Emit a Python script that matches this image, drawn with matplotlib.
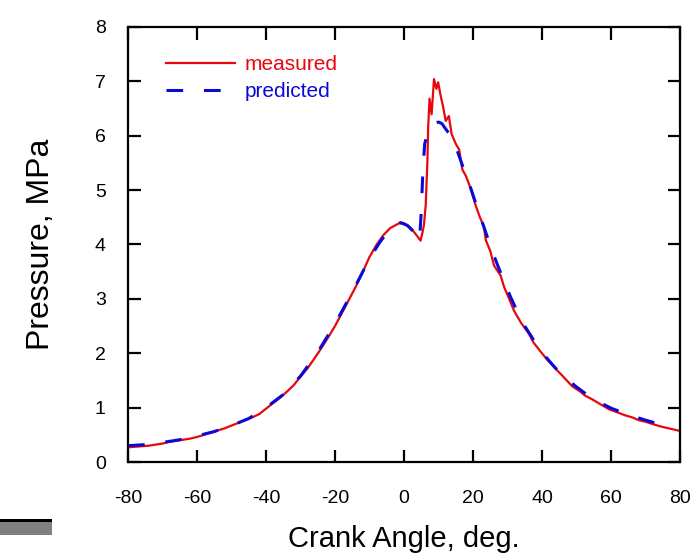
import matplotlib.pyplot as plt
from matplotlib.patches import Rectangle

plt.rcParams['font.family'] = ['Liberation Sans', 'DejaVu Sans']
plt.rcParams['lines.scale_dashes'] = False
plt.rcParams['axes.unicode_minus'] = False

# measured cylinder pressure (red)
meas_deg = [-80, -78, -76, -74, -72, -70, -68, -66, -64, -62, -60, -58, -56, -54,
            -52, -50, -48, -46, -44, -42, -40, -38, -36, -34, -32, -30, -28, -26,
            -24, -22, -20, -18, -16, -14, -12, -10, -8, -6, -4, -2, -1, 0, 1, 2,
            3, 4, 4.8, 5.3, 5.8, 6.3, 6.8, 7.0, 7.4, 8.0, 8.7, 9.4, 9.9, 10.6,
            11.3, 12.1, 13.0, 13.8, 15, 16, 16.9, 18, 19.3, 20.7, 22, 23.2, 23.7,
            25, 26.1, 28, 29, 30.4, 31.9, 34, 36.2, 37.5, 39.1, 41.5, 44, 46,
            48.8, 51, 52.5, 54.6, 57, 59.4, 62, 64, 66.2, 68, 70, 72, 74, 76,
            78.7, 80]
meas_p = [0.27, 0.28, 0.29, 0.30, 0.32, 0.34, 0.37, 0.39, 0.41, 0.43, 0.46, 0.50,
          0.54, 0.58, 0.62, 0.67, 0.72, 0.77, 0.82, 0.88, 0.98, 1.08, 1.18, 1.29,
          1.41, 1.57, 1.72, 1.90, 2.09, 2.29, 2.50, 2.74, 2.98, 3.22, 3.49, 3.77,
          3.99, 4.17, 4.30, 4.37, 4.40, 4.39, 4.34, 4.30, 4.22, 4.14, 4.07, 4.20,
          4.37, 4.73, 5.56, 6.15, 6.68, 6.39, 7.04, 6.86, 6.98, 6.74, 6.54, 6.27,
          6.36, 6.03, 5.85, 5.74, 5.38, 5.25, 5.03, 4.73, 4.50, 4.32, 4.08, 3.88,
          3.61, 3.43, 3.22, 3.01, 2.78, 2.55, 2.36, 2.20, 2.07, 1.88, 1.71, 1.58,
          1.39, 1.30, 1.22, 1.15, 1.06, 0.97, 0.91, 0.86, 0.82, 0.77, 0.74, 0.70,
          0.66, 0.63, 0.59, 0.57]

# predicted (blue dashed)
pred_deg = [-80, -75, -70, -65, -60, -55, -50, -45, -40, -35, -30, -25, -20, -15,
            -10, -7, -5, -3, -1, 1, 3, 4.5, 5, 5.5, 6, 7, 8, 9, 10, 11, 12, 13.5,
            15, 17, 19, 21, 23, 25, 27, 29, 31, 33, 35, 38, 41, 44, 47, 50, 53,
            56, 60, 65, 70, 75]
pred_p = [0.30, 0.32, 0.36, 0.41, 0.48, 0.56, 0.67, 0.80, 1.00, 1.24, 1.58, 2.02,
          2.54, 3.12, 3.74, 4.04, 4.21, 4.33, 4.40, 4.35, 4.22, 4.08, 4.60, 5.40,
          5.85, 6.08, 6.18, 6.23, 6.25, 6.22, 6.13, 6.00, 5.80, 5.44, 5.10, 4.72,
          4.35, 3.98, 3.64, 3.32, 3.02, 2.74, 2.50, 2.20, 1.94, 1.72, 1.54, 1.38,
          1.24, 1.12, 0.99, 0.87, 0.77, 0.68]

fig = plt.figure(figsize=(6.95, 5.59), dpi=100)
ax = fig.add_axes([0.1842, 0.1735, 0.7942, 0.7785])

ax.plot(meas_deg, meas_p, color='#e8070f', lw=1.6, label='measured')
ax.plot(pred_deg, pred_p, color='#0a0ad8', lw=2.2, dashes=(12, 15), label='predicted')

ax.set_xlim(-80, 80)
ax.set_ylim(0, 8)
ax.set_xticks(range(-80, 81, 20))
ax.set_yticks(range(0, 9))

for s in ax.spines.values():
    s.set_linewidth(1.6)
ax.tick_params(direction='in', length=9, width=1.6, top=True, right=True,
               labelsize=14)
ax.tick_params(axis='x', pad=20)
ax.tick_params(axis='y', pad=16)

ax.set_xlabel('Crank Angle, deg.', fontsize=21, labelpad=13)
ax.set_ylabel('Pressure, MPa', fontsize=23, labelpad=28)

ax.legend(loc='upper left', bbox_to_anchor=(0.069, 0.935), frameon=False,
          fontsize=15, labelcolor='linecolor', handlelength=3.3,
          handletextpad=0.45, labelspacing=0.38, borderpad=0, borderaxespad=0)

# grey bar remnant at the lower left of the slide
fig.patches.append(Rectangle((0, 0.043), 0.075, 0.025, transform=fig.transFigure,
                             facecolor='#808080', edgecolor='none'))
fig.patches.append(Rectangle((0, 0.0665), 0.075, 0.0055, transform=fig.transFigure,
                             facecolor='black', edgecolor='none'))

fig.savefig('out.png', dpi=100)
